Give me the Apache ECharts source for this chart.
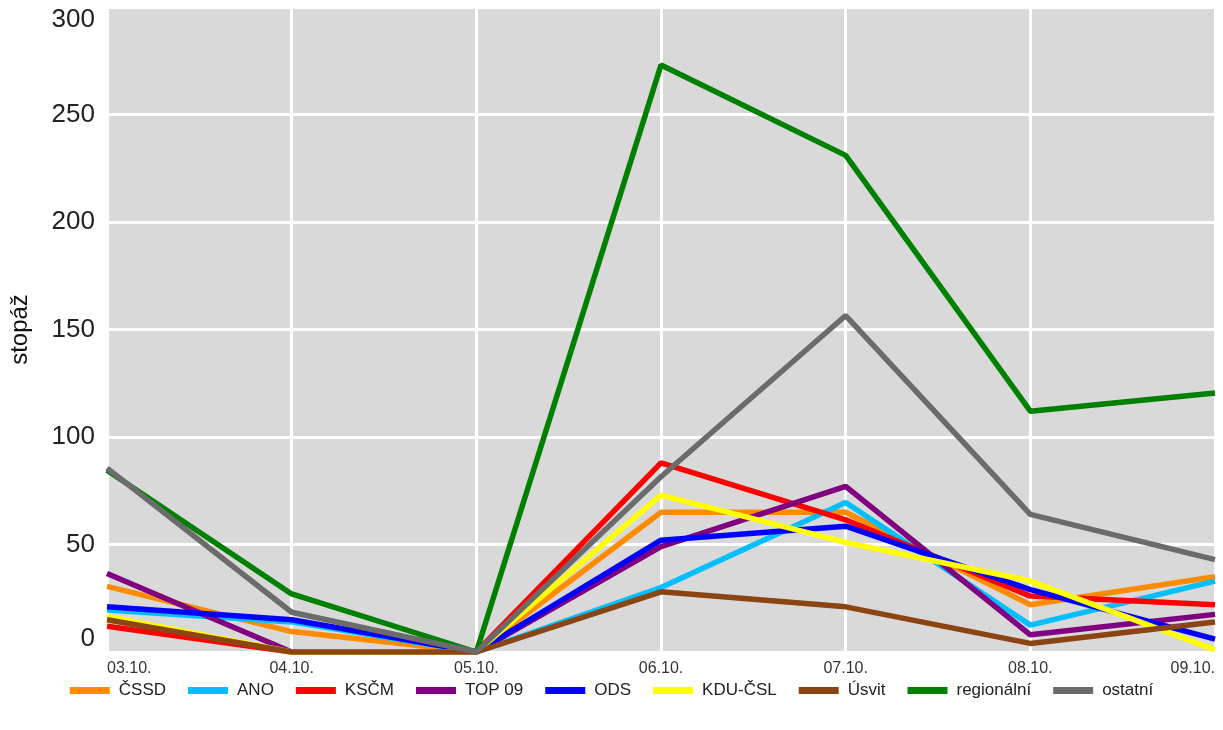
<!DOCTYPE html>
<html>
<head>
<meta charset="utf-8">
<script src="https://cdn.jsdelivr.net/npm/echarts@6/dist/echarts.min.js"></script>
<style>
html,body{margin:0;padding:0;background:#fff;}
#c{width:1223px;height:730px;}
</style>
</head>
<body>
<div id="c"></div>
<script>
const categories = ['03.10.', '04.10.', '05.10.', '06.10.', '07.10.', '08.10.', '09.10.'];
const yTicks = [0, 50, 100, 150, 200, 250, 300];

const cssd      = [30.5, 9.5, 0, 65, 65, 22, 35];
const ano       = [19.5, 14, 0, 30, 69.5, 12.5, 33];
const kscm      = [12, 0, 0, 88, 61.5, 26, 22];
const top09     = [36.5, 0, 0, 49, 77, 8, 17.5];
const ods       = [21, 15, 0, 52, 58.5, 29, 6];
const kduCsl    = [16.5, 0, 0, 73, 51, 33, 1];
const usvit     = [15, 0, 0, 28, 21, 4, 14];
const regionalni= [84.5, 27, 0, 273, 231, 112, 120.5];
const ostatni   = [85.5, 18.5, 0, 81.5, 156.5, 64, 43];

const seriesNames = ['ČSSD', 'ANO', 'KSČM', 'TOP 09', 'ODS', 'KDU-ČSL', 'Úsvit', 'regionální', 'ostatní'];
const seriesData = [cssd, ano, kscm, top09, ods, kduCsl, usvit, regionalni, ostatni];
const colors = ['#ff8c00', '#00bfff', '#ff0000', '#800080', '#0000ff', '#ffff00', '#8b4513', '#008000', '#6b6b6b'];

const chart = echarts.init(document.getElementById('c'), null, {renderer: 'canvas'});
const font = '"Liberation Sans", Arial, sans-serif';
chart.setOption({
  animation: false,
  backgroundColor: '#ffffff',
  color: colors,
  textStyle: {fontFamily: font},
  grid: {
    left: 107, right: 8, top: 7, bottom: 78,
    show: true, backgroundColor: '#d9d9d9', borderWidth: 0
  },
  legend: {
    data: seriesNames,
    bottom: 26,
    left: 'center',
    icon: 'rect',
    itemWidth: 40,
    itemHeight: 7,
    itemGap: 22,
    textStyle: {fontSize: 17, color: '#222', fontFamily: font, padding: [0, 0, 0, 4]}
  },
  xAxis: {
    type: 'category',
    data: categories,
    boundaryGap: false,
    axisLine: {show: false},
    axisTick: {show: false},
    axisLabel: {
      fontSize: 16, color: '#333', margin: 9, fontFamily: font,
      alignMinLabel: 'left', alignMaxLabel: 'right'
    },
    splitLine: {show: true, lineStyle: {color: '#ffffff', width: 3}}
  },
  yAxis: {
    type: 'value',
    min: yTicks[0],
    max: yTicks[yTicks.length - 1],
    interval: 50,
    name: 'stopáž',
    nameLocation: 'middle',
    nameGap: 75,
    nameTextStyle: {fontSize: 24, color: '#111', fontFamily: font},
    axisLine: {show: false},
    axisTick: {show: false},
    axisLabel: {
      fontSize: 26, color: '#222', margin: 12, fontFamily: font,
      verticalAlignMinLabel: 'bottom', verticalAlignMaxLabel: 'top'
    },
    splitLine: {show: true, lineStyle: {color: '#ffffff', width: 3}}
  },
  series: seriesNames.map((n, i) => ({
    name: n,
    type: 'line',
    data: seriesData[i],
    showSymbol: false,
    symbol: 'none',
    lineStyle: {width: 5.5, color: colors[i]},
    itemStyle: {color: colors[i]}
  }))
});
</script>
</body>
</html>
